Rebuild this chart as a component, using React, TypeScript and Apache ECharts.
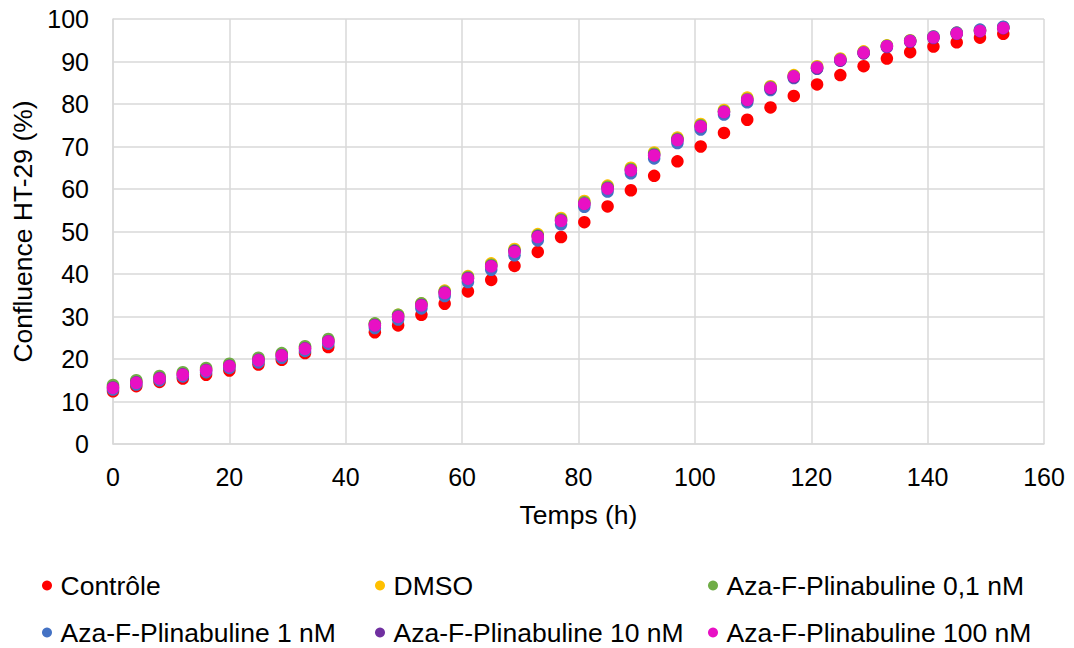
import React, { useEffect, useRef } from "react";
import * as echarts from "echarts";

const times = [0, 4, 8, 12, 16, 20, 25, 29, 33, 37, 45, 49, 53, 57, 61, 65, 69, 73, 77, 81, 85, 89, 93, 97, 101, 105, 109, 113, 117, 121, 125, 129, 133, 137, 141, 145, 149, 153];

const controle = [12.4, 13.6, 14.6, 15.4, 16.3, 17.3, 18.7, 19.8, 21.4, 22.8, 26.3, 27.9, 30.4, 33.0, 35.9, 38.6, 41.9, 45.2, 48.7, 52.2, 55.9, 59.7, 63.1, 66.5, 70.0, 73.2, 76.3, 79.2, 81.9, 84.6, 86.8, 88.9, 90.7, 92.2, 93.5, 94.5, 95.6, 96.5];
const dmso = [13.6, 14.8, 15.8, 16.7, 17.7, 18.7, 20.1, 21.2, 22.8, 24.5, 28.3, 30.4, 33.1, 36.1, 39.5, 42.5, 45.9, 49.4, 53.2, 57.2, 60.8, 65.0, 68.6, 72.1, 75.3, 78.6, 81.5, 84.2, 86.8, 88.9, 90.7, 92.4, 93.8, 95.0, 95.9, 96.8, 97.4, 98.1];
const aza01 = [13.9, 15.0, 16.0, 16.9, 17.9, 18.9, 20.3, 21.4, 23.0, 24.7, 28.4, 30.4, 33.1, 35.9, 39.3, 42.2, 45.6, 49.1, 52.9, 56.9, 60.5, 64.7, 68.3, 71.8, 75.0, 78.3, 81.2, 84.0, 86.6, 88.7, 90.5, 92.2, 93.7, 94.9, 95.8, 96.7, 97.3, 98.0];
const aza1 = [12.8, 14.0, 15.0, 15.9, 16.9, 17.9, 19.2, 20.3, 21.9, 23.6, 27.3, 29.3, 31.9, 34.8, 38.1, 41.0, 44.4, 47.9, 51.7, 55.8, 59.4, 63.7, 67.2, 70.8, 74.0, 77.5, 80.4, 83.3, 86.1, 88.3, 90.2, 92.0, 93.6, 94.9, 95.9, 96.8, 97.5, 98.2];
const aza10 = [13.3, 14.5, 15.5, 16.4, 17.4, 18.4, 19.8, 20.9, 22.5, 24.2, 28.0, 30.0, 32.7, 35.6, 39.0, 41.9, 45.4, 48.9, 52.6, 56.5, 60.2, 64.4, 68.0, 71.6, 74.7, 78.1, 80.9, 83.6, 86.3, 88.4, 90.2, 91.9, 93.4, 94.6, 95.5, 96.5, 97.1, 97.8];
const aza100 = [13.2, 14.4, 15.4, 16.3, 17.3, 18.3, 19.7, 20.8, 22.4, 24.1, 27.9, 29.9, 32.6, 35.5, 38.9, 41.8, 45.2, 48.7, 52.5, 56.5, 60.1, 64.4, 67.9, 71.5, 74.7, 78.1, 81.0, 83.8, 86.5, 88.6, 90.4, 92.1, 93.6, 94.8, 95.7, 96.6, 97.2, 97.9];

const seriesNames = [
  "Contrôle",
  "DMSO",
  "Aza-F-Plinabuline 0,1 nM",
  "Aza-F-Plinabuline 1 nM",
  "Aza-F-Plinabuline 10 nM",
  "Aza-F-Plinabuline 100 nM",
];
const seriesValues = [controle, dmso, aza01, aza1, aza10, aza100];
const seriesColors = ["#FF0000", "#FFC000", "#70AD47", "#4472C4", "#7030A0", "#E810C4"];

const xTicks = { min: 0, max: 160, interval: 20 };
const yTicks = { min: 0, max: 100, interval: 10 };

const FONT = "'Liberation Sans', Arial, sans-serif";
const GRID = "#d9d9d9";
const TEXT_SIZE = 26.5;

// legend layout: [left, top] per series
const legendPos: [number, number][] = [
  [42, 572],
  [375, 572],
  [708, 572],
  [42, 619],
  [375, 619],
  [708, 619],
];

export default function App() {
  const ref = useRef<HTMLDivElement>(null);
  useEffect(() => {
    if (!ref.current) return;
    const chart = echarts.init(ref.current, undefined, { renderer: "svg" });
    const series = seriesNames.map((name, i) => ({
      name,
      type: "scatter",
      symbol: "circle",
      symbolSize: 12.5,
      itemStyle: { color: seriesColors[i], opacity: 1 },
      data: times.map((t, k) => [t, seriesValues[i][k]]),
      z: 2 + i,
    }));
    const legends = seriesNames.map((name, i) => ({
      data: [name],
      left: legendPos[i][0],
      top: legendPos[i][1],
      padding: 0,
      itemGap: 0,
      itemWidth: 17,
      itemHeight: 10,
      icon: "circle",
      textStyle: { fontSize: TEXT_SIZE, fontFamily: FONT, color: "#000" },
    }));
    chart.setOption({
      animation: false,
      backgroundColor: "#fff",
      grid: { left: 113, right: 30, top: 19, bottom: 204, containLabel: false },
      xAxis: {
        type: "value",
        min: xTicks.min,
        max: xTicks.max,
        interval: xTicks.interval,
        name: "Temps (h)",
        nameLocation: "middle",
        nameGap: 57,
        nameTextStyle: { fontSize: TEXT_SIZE, fontFamily: FONT, color: "#000" },
        axisLine: { show: true, lineStyle: { color: GRID, width: 1.5 } },
        axisTick: { show: false },
        axisLabel: { fontSize: 25, fontFamily: FONT, color: "#000", margin: 20 },
        splitLine: { show: true, lineStyle: { color: GRID, width: 1.5 } },
      },
      yAxis: {
        type: "value",
        min: yTicks.min,
        max: yTicks.max,
        interval: yTicks.interval,
        name: "Confluence HT-29 (%)",
        nameLocation: "middle",
        nameGap: 75,
        nameTextStyle: { fontSize: TEXT_SIZE, fontFamily: FONT, color: "#000" },
        axisLine: { show: true, lineStyle: { color: GRID, width: 1.5 } },
        axisTick: { show: false },
        axisLabel: { fontSize: 25, fontFamily: FONT, color: "#000", margin: 24 },
        splitLine: { show: true, lineStyle: { color: GRID, width: 1.5 } },
      },
      legend: legends,
      series,
    });
    return () => chart.dispose();
  }, []);
  return (
    <div
      ref={ref}
      style={{ position: "absolute", left: 0, top: 0, width: 1074, height: 648 }}
    />
  );
}
